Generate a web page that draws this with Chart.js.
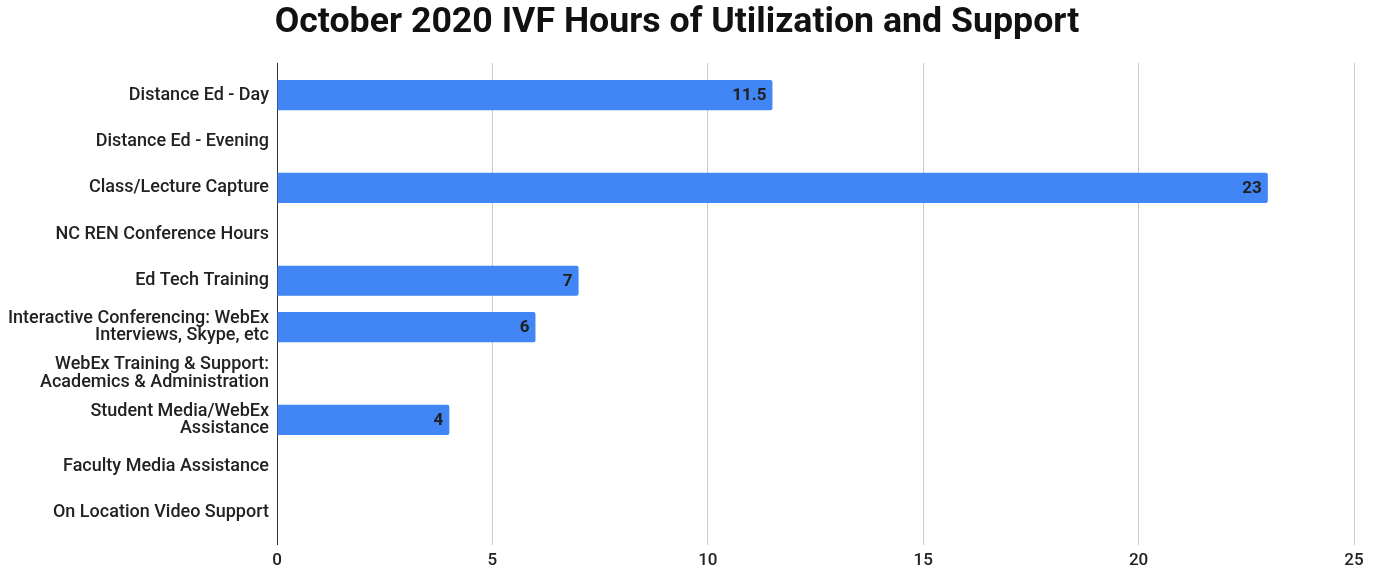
<!DOCTYPE html>
<html>
<head>
<meta charset="utf-8">
<script src="https://cdn.jsdelivr.net/npm/chart.js@4"></script>
<style>
    html, body { margin: 0; padding: 0; background: #fff; }
    #wrap { width: 1377px; height: 569px; }
</style>
</head>
<body>
<div id="wrap"><canvas id="myChart"></canvas></div>
<script>
const categories = [
    'Distance Ed - Day',
    'Distance Ed - Evening',
    'Class/Lecture Capture',
    'NC REN Conference Hours',
    'Ed Tech Training',
    ['Interactive Conferencing: WebEx', 'Interviews, Skype, etc'],
    ['WebEx Training & Support:', 'Academics & Administration'],
    ['Student Media/WebEx', 'Assistance'],
    'Faculty Media Assistance',
    'On Location Video Support'
];
const hours = [11.5, 0, 23, 0, 7, 6, 0, 4, 0, 0];
const xTicks = [0, 5, 10, 15, 20, 25];

const font = 'Roboto';

// value labels at the end of each bar
const barLabels = {
    id: 'barLabels',
    afterDatasetsDraw(chart) {
        const ctx = chart.ctx;
        const meta = chart.getDatasetMeta(0);
        ctx.save();
        ctx.font = 'bold 17px ' + font;
        ctx.fillStyle = '#1f1f1f';
        ctx.textAlign = 'right';
        ctx.textBaseline = 'middle';
        meta.data.forEach((bar, i) => {
            if (!hours[i]) return;
            ctx.fillText(String(hours[i]), bar.x - 6, bar.y + 1);
        });
        ctx.restore();
    }
};

const gridColor = (c) => c.tick && c.tick.value === 0 ? '#333333' : '#cccccc';

var ctx = document.getElementById('myChart').getContext('2d');
var myChart = new Chart(ctx, { //eslint-disable-line
    type: 'bar',
    data: {
        labels: categories,
        datasets: [
            {
                data: hours,
                backgroundColor: '#4285f4',
                borderRadius: 2,
                borderSkipped: 'start',
                barPercentage: 0.65,
                categoryPercentage: 1
            }
        ]
    },
    options: {
        indexAxis: 'y',
        responsive: true,
        maintainAspectRatio: false,
        animation: false,
        layout: { padding: { left: 0, right: 23, top: 0, bottom: 0 } },
        plugins: {
            legend: { display: false },
            tooltip: { enabled: false },
            title: {
                display: true,
                text: 'October 2020 IVF Hours of Utilization and Support',
                color: '#111111',
                font: { family: font, size: 35.7, weight: 'bold' },
                padding: { top: 2, bottom: 18 }
            }
        },
        scales: {
            x: {
                min: 0,
                max: 25,
                afterBuildTicks(scale) { scale.ticks = xTicks.map(v => ({ value: v })); },
                afterFit(scale) { scale.height = 33; },
                grid: { color: gridColor, drawTicks: true, tickLength: 9, lineWidth: 1 },
                border: { display: false },
                ticks: {
                    padding: 6,
                    color: '#222222',
                    font: { family: font, size: 17, weight: 500 }
                }
            },
            x2: {
                position: 'top',
                axis: 'x',
                min: 0,
                max: 25,
                afterBuildTicks(scale) { scale.ticks = xTicks.map(v => ({ value: v })); },
                grid: { color: gridColor, drawTicks: true, tickLength: 9, lineWidth: 1 },
                border: { display: false },
                ticks: { display: false }
            },
            y: {
                afterFit(scale) { scale.width = 277; },
                grid: { display: false, drawTicks: false },
                border: { display: true, color: '#333333', width: 1 },
                ticks: {
                    padding: 8,
                    color: '#222222',
                    font: { family: font, size: 18, weight: 500, lineHeight: 0.95 }
                }
            }
        }
    },
    plugins: [barLabels]
});
</script>
</body>
</html>
